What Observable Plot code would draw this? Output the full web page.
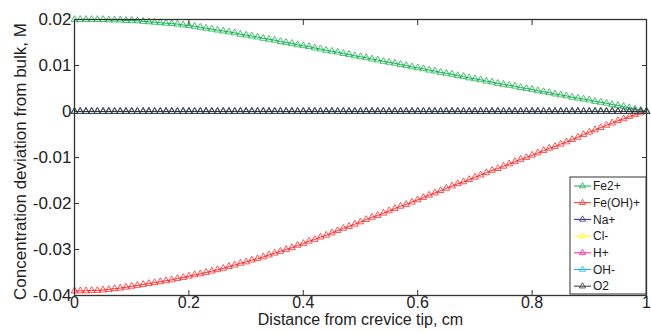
<!DOCTYPE html>
<html>
<head>
<meta charset="utf-8">
<script src="https://cdn.jsdelivr.net/npm/d3@7"></script>
<script src="https://cdn.jsdelivr.net/npm/@observablehq/plot@0.6"></script>
<style>
  html, body { margin: 0; padding: 0; background: #fff; }
  svg { font-family: "Liberation Sans", Arial, sans-serif; }
</style>
</head>
<body>
<div id="chart"></div>
<script>
// Sample positions (distance from crevice tip, cm)
const distance = d3.range(101).map(i => i / 100);

const ions = ["Fe2+", "Fe(OH)+", "Na+", "Cl-", "H+", "OH-", "O2"];
const ionColors = ["#14b14e", "#ff2a2a", "#2b2b96", "#ffff00", "#ff1aa8", "#1ab6f0", "#333333"];

const fe2 = [
0.0200,0.0200,0.0200,0.0200,0.0200,0.0200,0.0199,0.0199,0.0199,0.0198,
0.0198,0.0197,0.0196,0.0195,0.0194,0.0193,0.0192,0.0191,0.0190,0.0188,
0.0187,0.0185,0.0183,0.0181,0.0179,0.0177,0.0175,0.0173,0.0171,0.0168,
0.0166,0.0164,0.0162,0.0159,0.0157,0.0155,0.0152,0.0150,0.0148,0.0145,
0.0143,0.0141,0.0138,0.0136,0.0133,0.0131,0.0129,0.0126,0.0124,0.0121,
0.0119,0.0117,0.0114,0.0112,0.0109,0.0107,0.0105,0.0102,0.0100,0.0097,
0.0095,0.0093,0.0090,0.0088,0.0085,0.0083,0.0081,0.0078,0.0076,0.0073,
0.0071,0.0069,0.0066,0.0064,0.0061,0.0059,0.0057,0.0055,0.0052,0.0050,
0.0048,0.0045,0.0043,0.0041,0.0038,0.0036,0.0034,0.0031,0.0029,0.0027,
0.0025,0.0022,0.0020,0.0018,0.0015,0.0013,0.0011,0.0008,0.0005,0.0003,
0.0000];

const feoh = [
-0.0390,-0.0390,-0.0390,-0.0389,-0.0389,-0.0388,-0.0387,-0.0385,-0.0384,-0.0382,
-0.0380,-0.0378,-0.0376,-0.0374,-0.0372,-0.0370,-0.0368,-0.0366,-0.0363,-0.0361,
-0.0358,-0.0355,-0.0353,-0.0350,-0.0347,-0.0344,-0.0341,-0.0337,-0.0334,-0.0330,
-0.0327,-0.0323,-0.0320,-0.0316,-0.0312,-0.0308,-0.0304,-0.0300,-0.0296,-0.0291,
-0.0287,-0.0282,-0.0278,-0.0273,-0.0269,-0.0264,-0.0259,-0.0254,-0.0250,-0.0245,
-0.0240,-0.0235,-0.0230,-0.0226,-0.0221,-0.0216,-0.0211,-0.0206,-0.0202,-0.0197,
-0.0192,-0.0187,-0.0182,-0.0177,-0.0172,-0.0167,-0.0162,-0.0157,-0.0153,-0.0148,
-0.0143,-0.0138,-0.0133,-0.0128,-0.0124,-0.0119,-0.0114,-0.0109,-0.0104,-0.0100,
-0.0095,-0.0090,-0.0085,-0.0080,-0.0076,-0.0071,-0.0066,-0.0061,-0.0056,-0.0050,
-0.0045,-0.0040,-0.0035,-0.0030,-0.0025,-0.0020,-0.0016,-0.0011,-0.0007,-0.0003,
0.0000];

// The remaining species stay at (essentially) zero deviation along the crevice
const zeros = [
0,0,0,0,0,0,0,0,0,0, 0,0,0,0,0,0,0,0,0,0, 0,0,0,0,0,0,0,0,0,0,
0,0,0,0,0,0,0,0,0,0, 0,0,0,0,0,0,0,0,0,0, 0,0,0,0,0,0,0,0,0,0,
0,0,0,0,0,0,0,0,0,0, 0,0,0,0,0,0,0,0,0,0, 0,0,0,0,0,0,0,0,0,0,
0,0,0,0,0,0,0,0,0,0, 0];
const naPlus = zeros, clMinus = zeros, hPlus = zeros, ohMinus = zeros, o2 = zeros;

const seriesValues = [fe2, feoh, naPlus, clMinus, hPlus, ohMinus, o2];

const xTicks = [0, 0.2, 0.4, 0.6, 0.8, 1];
const xTickLabels = ["0", "0.2", "0.4", "0.6", "0.8", "1"];
const yTicks = [0.02, 0.01, 0, -0.01, -0.02, -0.03, -0.04];
const yTickLabels = ["0.02", "0.01", "0", "-0.01", "-0.02", "-0.03", "-0.04"];

const rows = ions.map((ion, k) => distance.map((x, i) => ({x, y: seriesValues[k][i], ion})));

const seriesMarks = [];
ions.forEach((ion, k) => {
  seriesMarks.push(Plot.line(rows[k], {x: "x", y: "y", stroke: ionColors[k], strokeWidth: 1}));
  seriesMarks.push(Plot.dot(rows[k], {x: "x", y: "y", symbol: "triangle", r: 2.5, stroke: ionColors[k], fill: "none", strokeWidth: 0.8}));
});

const fmtX = d => xTickLabels[xTicks.indexOf(d)];
const fmtY = d => yTickLabels[yTicks.indexOf(d)];

const plot = Plot.plot({
  width: 651,
  height: 333,
  marginTop: 19,
  marginRight: 5,
  marginBottom: 38,
  marginLeft: 74,
  style: {fontFamily: "Liberation Sans, Arial, sans-serif", color: "#222", background: "#fff"},
  x: {domain: [0, 1]},
  y: {domain: [-0.04, 0.02]},
  marks: [
    ...seriesMarks,
    Plot.frame({stroke: "#333", strokeWidth: 1.3}),
    // tick labels
    Plot.axisX(xTicks, {anchor: "bottom", tickSize: 0, tickPadding: 1, tickFormat: fmtX, fontSize: 16, label: null}),
    Plot.axisY(yTicks, {anchor: "left", tickSize: 0, tickPadding: 3, tickFormat: fmtY, fontSize: 17, label: null}),
    // inward ticks on all four sides
    Plot.axisX(xTicks, {anchor: "bottom", tickSize: 5, dy: -5, tickFormat: () => "", label: null, stroke: "#333"}),
    Plot.axisX(xTicks, {anchor: "top", tickSize: 5, dy: 5, tickFormat: () => "", label: null, stroke: "#333"}),
    Plot.axisY(yTicks, {anchor: "left", tickSize: 5, dx: 5, tickFormat: () => "", label: null, stroke: "#333"}),
    Plot.axisY(yTicks, {anchor: "right", tickSize: 5, dx: -5, tickFormat: () => "", label: null, stroke: "#333"}),
    Plot.text(["Distance from crevice tip, cm"], {frameAnchor: "bottom", dy: 29, fontSize: 16, fill: "#222", textAnchor: "middle"}),
    Plot.text(["Concentration deviation from bulk, M"], {frameAnchor: "left", rotate: -90, dx: -54, dy: 4, fontSize: 17, fill: "#222", textAnchor: "middle"})
  ]
});

document.getElementById("chart").appendChild(plot);

// Legend box (MATLAB-style), drawn inside the plot's SVG
const svg = d3.select(plot);
const lg = svg.append("g").attr("transform", "translate(570,177)");
lg.append("rect").attr("x", 0).attr("y", 0).attr("width", 76).attr("height", 117)
  .attr("fill", "#fff").attr("stroke", "#333").attr("stroke-width", 1);
ions.forEach((ion, k) => {
  const yy = 9 + k * 16.7;
  lg.append("line").attr("x1", 4).attr("x2", 21).attr("y1", yy).attr("y2", yy)
    .attr("stroke", ionColors[k]).attr("stroke-width", 1);
  lg.append("path").attr("d", d3.symbol(d3.symbolTriangle, 16)())
    .attr("transform", `translate(12.5,${yy})`)
    .attr("fill", "none").attr("stroke", ionColors[k]).attr("stroke-width", 0.8);
  lg.append("text").attr("x", 23).attr("y", yy).attr("dy", "0.35em")
    .attr("text-anchor", "start")
    .attr("font-size", 12).attr("fill", "#222").text(ion);
});
</script>
</body>
</html>
